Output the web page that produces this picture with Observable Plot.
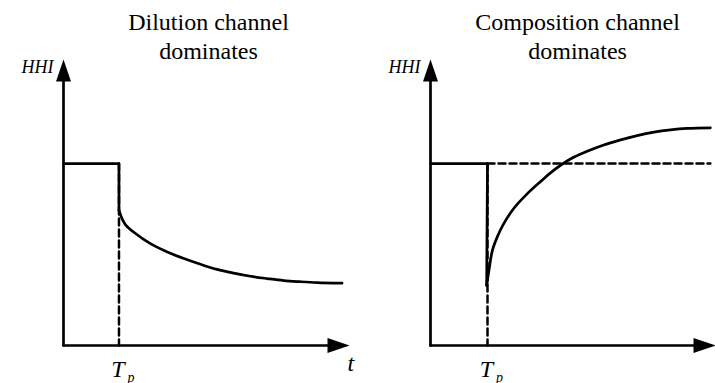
<!DOCTYPE html>
<html><head><meta charset="utf-8">
<script src="https://cdn.jsdelivr.net/npm/d3@7"></script>
<script src="https://cdn.jsdelivr.net/npm/@observablehq/plot@0.6"></script>
<style>
html,body{margin:0;padding:0;background:#fff;overflow:hidden;}
#wrap{position:relative;width:715px;height:383px;background:#fff;}
.panel{position:absolute;top:0;}
</style></head><body><div id="wrap"></div>
<script>
// ---- data ----
const panelTitles = ["Dilution channel\ndominates", "Composition channel\ndominates"];
const titleCenters = [5.07, 5.16];
const yLabel = "HHI";
const xLabel = "t";
const shockLabel = "T";
const shockSub = "p";
const initialLevel = 6.36;
const shockTimes = [1.94, 2.0];
const dropLevels = [4.72, 2.10];
const dilutionT = [1.94, 2.05, 2.17, 2.46, 3.04, 3.63, 4.21, 4.79, 5.37, 5.95, 6.54, 7.12, 7.70, 8.29, 8.87, 9.74];
const dilutionH = [4.72, 4.43, 4.22, 3.96, 3.56, 3.27, 3.04, 2.84, 2.66, 2.53, 2.42, 2.34, 2.27, 2.23, 2.20, 2.18];
const compositionT = [1.97, 2.05, 2.17, 2.34, 2.57, 2.92, 3.39, 3.86, 4.33, 4.91, 5.50, 6.08, 6.67, 7.25, 7.84, 8.42, 9.01, 9.82];
const compositionH = [2.10, 2.62, 3.32, 3.79, 4.26, 4.79, 5.30, 5.73, 6.13, 6.52, 6.79, 7.01, 7.19, 7.34, 7.46, 7.54, 7.59, 7.61];
const axisMax = 10;

const SERIF = "Liberation Serif, DejaVu Serif, serif";
const arrowHead = {draw(ctx) { ctx.moveTo(0, 0); ctx.lineTo(7.5, 22); ctx.lineTo(-7.5, 22); ctx.closePath(); }};

const panels = [
  {title: panelTitles[0], titleT: titleCenters[0], tp: shockTimes[0], drop: dropLevels[0], dropT: dilutionT[0],
   curve: dilutionT.map((t, i) => ({t, h: dilutionH[i]})), dashedLevel: false, showT: true,
   marginLeft: 63, marginRight: 8, left: 0},
  {title: panelTitles[1], titleT: titleCenters[1], tp: shockTimes[1], drop: dropLevels[1], dropT: compositionT[0],
   curve: compositionT.map((t, i) => ({t, h: compositionH[i]})), dashedLevel: true, showT: false,
   marginLeft: 72, marginRight: 0, left: 358}
];

const wrap = document.getElementById("wrap");
const lastCurveT = p => p.curve[p.curve.length - 1].t;

panels.forEach(p => {
  const marks = [
    Plot.line([{t: p.tp, h: initialLevel}, {t: p.tp, h: 0}], {x: "t", y: "h", stroke: "black", strokeWidth: 2.5, strokeDasharray: "7,4"}),
    p.dashedLevel ? Plot.line([{t: p.tp, h: initialLevel}, {t: lastCurveT(p), h: initialLevel}], {x: "t", y: "h", stroke: "black", strokeWidth: 2.5, strokeDasharray: "7,4"}) : null,
    Plot.line([{t: 0, h: 0}, {t: 0, h: axisMax - 0.5}], {x: "t", y: "h", stroke: "black", strokeWidth: 2.7}),
    Plot.line([{t: 0, h: 0}, {t: axisMax - 0.5, h: 0}], {x: "t", y: "h", stroke: "black", strokeWidth: 2.7}),
    Plot.dot([{t: 0, h: axisMax}], {x: "t", y: "h", symbol: arrowHead, fill: "black", stroke: "none", r: 5}),
    Plot.dot([{t: axisMax, h: 0}], {x: "t", y: "h", symbol: arrowHead, fill: "black", stroke: "none", r: 5, rotate: 90}),
    Plot.line([{t: 0, h: initialLevel}, {t: p.tp, h: initialLevel}, {t: p.dropT, h: p.drop}], {x: "t", y: "h", stroke: "black", strokeWidth: 2.7}),
    Plot.line(p.curve, {x: "t", y: "h", curve: "catmull-rom", stroke: "black", strokeWidth: 2.7}),
    Plot.text([{t: p.titleT, label: p.title}], {x: "t", text: "label", frameAnchor: "top", dy: -1, lineAnchor: "bottom", lineHeight: 1.2, fontSize: 24, fontFamily: SERIF, textAnchor: "middle", fill: "black", ariaLabel: "title"}),
    Plot.text([{t: 0, h: axisMax, label: yLabel}], {x: "t", y: "h", text: "label", dx: -10, dy: 13, lineAnchor: "bottom", textAnchor: "end", fontSize: 18, fontFamily: SERIF, fontStyle: "italic", fill: "black", ariaLabel: "hhi"}),
    Plot.text([{t: p.tp, h: 0, label: shockLabel}], {x: "t", y: "h", text: "label", dx: -1, dy: 31, lineAnchor: "bottom", textAnchor: "middle", fontSize: 24, fontFamily: SERIF, fontStyle: "italic", fill: "black"}),
    Plot.text([{t: p.tp, h: 0, label: shockSub}], {x: "t", y: "h", text: "label", dx: 8.5, dy: 36, lineAnchor: "bottom", textAnchor: "start", fontSize: 14, fontFamily: SERIF, fontStyle: "italic", fill: "black"}),
    p.showT ? Plot.text([{t: axisMax, h: 0, label: xLabel}], {x: "t", y: "h", text: "label", dx: -2, dy: 25, lineAnchor: "bottom", textAnchor: "start", fontSize: 24, fontFamily: SERIF, fontStyle: "italic", fill: "black"}) : null
  ].filter(Boolean);

  const svg = Plot.plot({
    width: 357,
    height: 383,
    marginLeft: p.marginLeft,
    marginRight: p.marginRight,
    marginTop: 59,
    marginBottom: 38,
    x: {domain: [0, axisMax], axis: null},
    y: {domain: [0, axisMax], axis: null},
    style: {background: "transparent", overflow: "visible"},
    marks
  });
  d3.select(svg).selectAll("text").style("font-family", SERIF);
  d3.select(svg).selectAll("g[aria-label=title] text").style("letter-spacing", "1.5px");
  d3.select(svg).selectAll("g[aria-label=hhi] text").style("letter-spacing", "3px");
  const div = document.createElement("div");
  div.className = "panel";
  div.style.left = p.left + "px";
  div.appendChild(svg);
  wrap.appendChild(div);
});
</script></body></html>
